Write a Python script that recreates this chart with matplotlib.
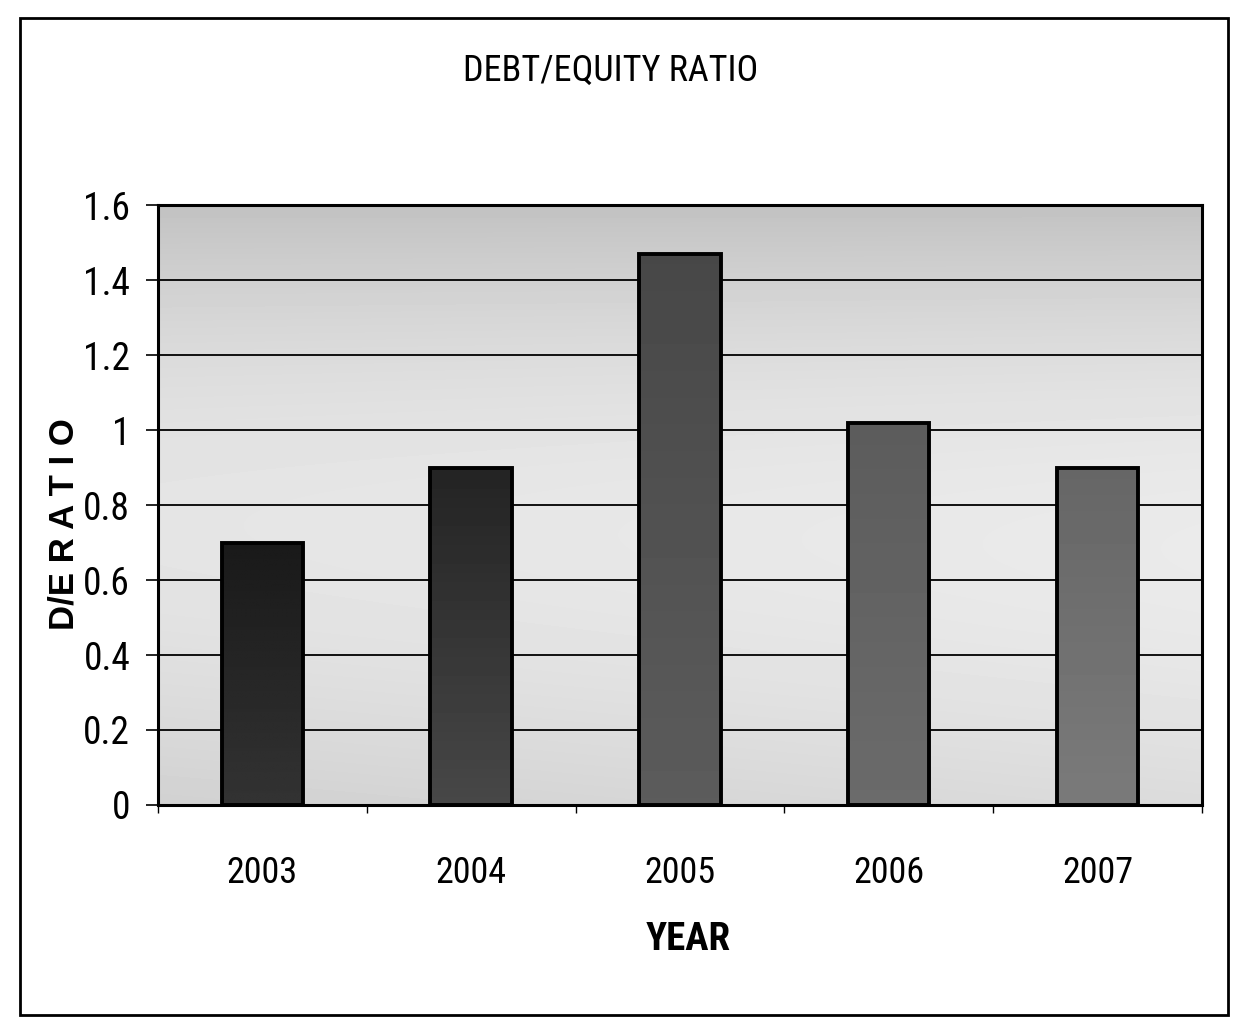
import matplotlib
matplotlib.use("Agg")
import matplotlib.pyplot as plt
import numpy as np
from matplotlib.patches import Rectangle

years = ["2003", "2004", "2005", "2006", "2007"]
de_ratio = [0.70, 0.90, 1.47, 1.02, 0.90]
yticks = [0, 0.2, 0.4, 0.6, 0.8, 1.0, 1.2, 1.4, 1.6]
ytick_labels = ["0", "0.2", "0.4", "0.6", "0.8", "1", "1.2", "1.4", "1.6"]

# bar shading: (top grey, bottom grey) for each year
bar_shades = [(0.10, 0.20), (0.14, 0.28), (0.28, 0.36), (0.36, 0.42), (0.40, 0.48)]

narrow = ["Liberation Sans Narrow", "Roboto Condensed", "DejaVu Sans"]

fig = plt.figure(figsize=(12.34, 10.29), dpi=100)
fig.patch.set_facecolor("white")
ax = fig.add_axes([0.128, 0.2177, 0.846, 0.583])

x = np.arange(len(years))
width = 0.39

# plot area background: grey wash, darker along the top band
t = np.linspace(0, 1, 200)[:, None]         # 0 at bottom, 1 at top
s = np.linspace(0, 1, 300)[None, :]         # 0 at left, 1 at right
bg = 0.82 + 0.08 * np.sin(np.pi * t) - 0.06 * t ** 4 + 0.04 * s * (1 - t)
ax.imshow(bg, cmap="gray", vmin=0, vmax=1, origin="lower", aspect="auto",
          extent=[-0.5, 4.5, 0, 1.6], zorder=0, interpolation="bilinear")

ax.set_yticks(yticks)
for yv in yticks[1:-1]:
    ax.axhline(yv, color="black", linewidth=1.3, zorder=1)

bars = ax.bar(x, de_ratio, width=width, facecolor="none", edgecolor="black",
              linewidth=2.8, zorder=4)
for rect, (top, bot) in zip(bars, bar_shades):
    h = rect.get_height()
    grad = np.linspace(bot, top, 100)[:, None]
    x0 = rect.get_x()
    ax.imshow(grad, cmap="gray", vmin=0, vmax=1, origin="lower", aspect="auto",
              extent=[x0, x0 + rect.get_width(), 0, h], zorder=3,
              interpolation="bilinear")

ax.set_xlim(-0.5, 4.5)
ax.set_ylim(0, 1.6)

ax.set_xticks(x)
ax.set_xticklabels(years, fontfamily=narrow, fontstretch="condensed", fontsize=26)
ax.set_xticks(np.arange(-0.5, 5, 1), minor=True)
ax.tick_params(axis="x", which="major", length=0, pad=36)
ax.tick_params(axis="x", which="minor", length=6, width=1, direction="out")

ax.set_yticklabels(ytick_labels, fontfamily=narrow, fontstretch="condensed", fontsize=27)
ax.tick_params(axis="y", length=9, width=1.2, direction="out", pad=11)

for sp in ax.spines.values():
    sp.set_linewidth(2.2)
    sp.set_color("black")

fig.text(611 / 1234, 1 - 71 / 1029, "DEBT/EQUITY RATIO", ha="center", va="center",
         fontfamily=narrow, fontstretch="condensed", fontsize=26)
fig.text(688 / 1234, 1 - 940 / 1029, "YEAR", ha="center", va="center",
         fontfamily=narrow, fontstretch="condensed", fontsize=28, fontweight="bold")
fig.text(64 / 1234, 1 - 524 / 1029, "D/E R A T I O", ha="center", va="center",
         rotation=90, fontfamily=["Liberation Sans", "DejaVu Sans"],
         fontsize=25, fontweight="bold")

# outer frame
fig.patches.append(Rectangle((20 / 1234, 1 - 1015 / 1029), 1208 / 1234, 997 / 1029,
                             transform=fig.transFigure, fill=False,
                             edgecolor="black", linewidth=2))

fig.savefig("out.png", dpi=100, facecolor="white")
